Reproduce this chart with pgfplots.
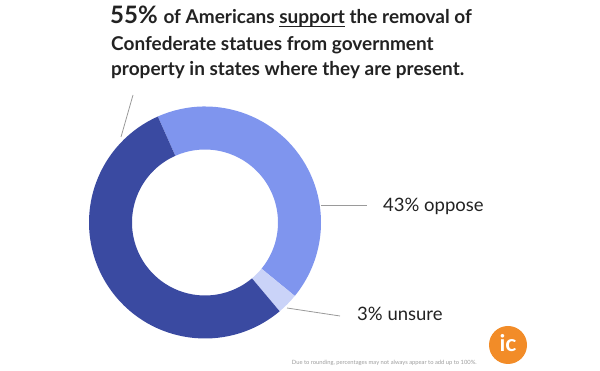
\documentclass[border=0pt]{standalone}
\usepackage{pgfplots}
\pgfplotsset{compat=1.18}
\usepackage{fontspec}
\setmainfont{Lato}
\definecolor{cSupport}{HTML}{3A4AA1}
\definecolor{cOppose}{HTML}{7F95EE}
\definecolor{cUnsure}{HTML}{CAD3F8}
\definecolor{cText}{HTML}{222222}
\definecolor{cLine}{HTML}{9A9A9A}
\definecolor{cFoot}{HTML}{9C9C9C}
\definecolor{cLogo}{HTML}{F28C28}
\newcommand\ulw[1]{\setbox0\hbox{#1}\rlap{\rule[-3.2pt]{\wd0}{1.1pt}}\box0\relax}
\begin{document}
\begin{tikzpicture}
\path[use as bounding box] (0,0) rectangle (600pt,371pt);
\begin{axis}[at={(0,0)}, anchor=south west, x=1pt, y=1pt,
  xmin=0, xmax=600, ymin=0, ymax=371, hide axis, clip=false]
% data: value, colour  (order clockwise from the top boundary)
\foreach \v/\col [remember=\aEnd as \aStart (initially 114)] in {43/cOppose, 3/cUnsure, 55/cSupport} {
  \pgfmathsetmacro{\aEnd}{\aStart - \v/101*360}
  \edef\temp{\noexpand\fill[\col] ([shift={(\aStart:116pt)}]axis cs:205,148.5)
     arc[start angle=\aStart, end angle=\aEnd, radius=116pt]
     -- ([shift={(\aEnd:73pt)}]axis cs:205,148.5)
     arc[start angle=\aEnd, end angle=\aStart, radius=73pt] -- cycle;}
  \temp
}
% leader lines
\draw[cLine, line width=0.8pt] (axis cs:133,276) -- (axis cs:121,234);
\draw[cLine, line width=0.8pt] (axis cs:321,166) -- (axis cs:367,166);
\draw[cLine, line width=0.8pt] (axis cs:287,63) -- (axis cs:340,55);
% title
\node[anchor=base west, inner sep=0, text=cText] at (axis cs:110,347.5)
  {\fontsize{24pt}{26pt}\selectfont\bfseries 55\%\ \fontsize{19pt}{26pt}\selectfont of Americans \ulw{support} the removal of};
\node[anchor=base west, inner sep=0, text=cText] at (axis cs:111,320.5)
  {\fontsize{19pt}{26pt}\selectfont\bfseries Confederate statues from government};
\node[anchor=base west, inner sep=0, text=cText] at (axis cs:111,295)
  {\fontsize{19pt}{26pt}\selectfont\bfseries property in states where they are present.};
% labels
\node[anchor=base west, inner sep=0, text=cText] at (axis cs:383,159)
  {\fontsize{18.5pt}{20pt}\selectfont 43\% oppose};
\node[anchor=base west, inner sep=0, text=cText] at (axis cs:357,50)
  {\fontsize{18.5pt}{20pt}\selectfont 3\% unsure};
% footnote
\node[anchor=base east, inner sep=0, text=cFoot] at (axis cs:477,6)
  {\fontsize{5.8pt}{7pt}\selectfont Due to rounding, percentages may not always appear to add up to 100\%.};
% logo
\fill[cLogo] (axis cs:508,26) circle[radius=19pt];
\node[text=white, inner sep=0] at (axis cs:508,27.5)
  {\fontsize{23pt}{24pt}\selectfont\bfseries ic};
\end{axis}
\end{tikzpicture}
\end{document}
